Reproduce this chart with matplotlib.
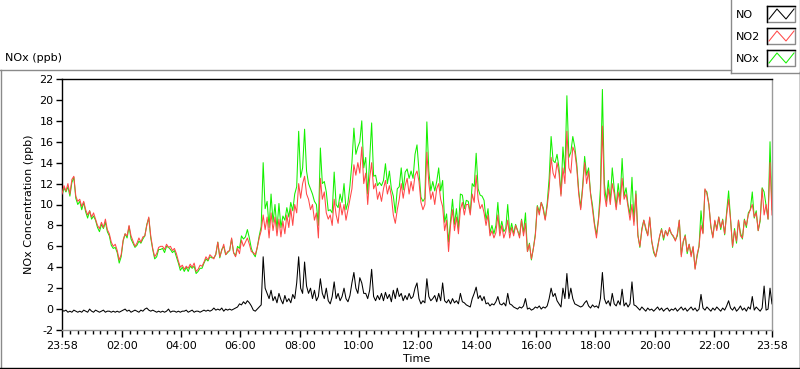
import numpy as np
import matplotlib
matplotlib.use("Agg")
import matplotlib.pyplot as plt
from matplotlib.lines import Line2D
from matplotlib.patches import Rectangle

W, H = 800, 369
plt.rcParams['font.family'] = ['DejaVu Sans']

# ---- data (4-minute samples starting 23:58) ----
step_min = 4
no2_ppb = [
    11.0, 11.8, 11.3, 12.0, 11.0, 12.4, 12.7, 10.8, 10.3, 10.5, 9.8, 10.3, 9.5, 9.0, 9.4, 8.8, 9.2, 8.6, 8.0, 7.7,
    8.3, 7.8, 8.6, 7.6, 7.2, 6.4, 6.0, 6.2, 5.6, 4.7, 5.2, 6.6, 7.2, 7.0, 8.0, 7.0, 6.5, 6.0, 6.3, 6.8,
    6.4, 6.9, 7.0, 8.0, 8.8, 7.0, 5.8, 5.0, 5.3, 5.9, 6.0,
    6.0, 5.7, 6.2, 5.9, 6.0, 5.6, 5.8, 5.3, 4.6, 4.0, 4.2, 3.8, 4.1, 3.9, 4.3, 4.0, 4.4, 3.6, 3.8, 4.2,
    4.1, 4.5, 5.0, 4.7, 5.2, 5.0, 4.8, 5.3, 6.4, 5.0, 5.6, 6.2, 5.2, 5.5, 5.6, 6.8, 5.4, 5.0, 5.8, 5.3,
    6.6, 6.0, 6.4, 6.8, 6.2, 5.5, 5.4, 5.2, 5.9, 6.8, 7.5,
    9.0, 7.6, 8.8, 6.8, 9.2, 7.5, 8.8, 7.0, 8.6, 6.9, 8.4, 7.2, 9.0, 7.8, 9.6, 8.0, 10.0, 9.2, 12.0, 10.6,
    12.0, 12.7, 11.0, 10.5, 9.5, 10.0, 8.5, 9.2, 6.8, 12.5, 10.5, 11.2, 9.2, 8.6, 9.0, 8.0, 10.5, 9.0, 8.2, 10.2,
    9.0, 10.0, 8.5, 9.5, 10.5, 11.5, 13.8, 12.8, 14.0, 13.0, 15.5, 12.0,
    13.0, 10.0, 12.5, 14.0, 11.5, 12.0, 10.5, 11.2, 10.3, 11.5, 12.3, 11.0, 11.8, 10.8, 9.0, 8.2, 9.5, 10.5, 12.0, 10.6,
    11.8, 12.5, 11.0, 12.2, 11.3, 12.8, 13.2, 12.2, 10.2, 9.5, 10.0, 15.0, 12.0, 10.5, 11.2, 10.0, 11.5, 12.0, 10.5, 9.8,
    7.5, 8.5, 5.5, 8.0, 9.5, 7.5, 8.8, 7.2, 9.5, 10.2, 9.0, 10.0,
    10.0, 9.0, 11.0, 10.2, 12.8, 10.5, 9.6, 10.0, 9.2, 8.0, 9.0, 7.0, 7.5, 6.8, 7.3, 9.0, 7.0, 8.0, 6.8, 7.4,
    8.5, 6.8, 7.8, 7.0, 8.0, 7.5, 6.8, 8.5, 7.0, 8.2, 5.5, 6.2, 4.8, 5.8, 7.0, 9.8, 9.0, 10.2, 9.5, 8.5,
    9.8, 11.5, 14.5, 13.0, 12.5, 14.0, 13.0, 10.8, 13.5, 12.0, 17.0, 13.5,
    13.0, 15.5, 15.0, 13.5, 11.0, 9.5, 11.5, 14.0, 12.0, 13.2, 11.0, 9.5, 8.0, 6.8, 8.5, 10.5, 17.5, 11.0, 9.8, 11.5,
    10.0, 12.0, 11.0, 9.5, 11.2, 10.0, 12.5, 10.5, 11.0, 9.8, 8.5, 10.0, 8.0, 11.0, 7.0, 6.0, 7.5, 8.5, 7.8, 7.0,
    8.8, 6.5, 5.6, 5.0, 5.8, 7.0, 7.6, 6.8, 7.5, 7.0, 7.8, 7.2,
    7.0, 6.5, 7.2, 8.5, 5.0, 6.5, 7.0, 5.5, 6.2, 5.0, 6.0, 3.8, 5.2, 6.0, 8.0, 7.2, 11.5, 11.0, 10.0, 8.0,
    6.8, 8.5, 7.5, 8.8, 7.8, 8.5, 7.2, 9.0, 10.5, 8.5, 6.0, 7.5, 6.5, 8.5, 7.0, 6.8, 8.5, 8.0, 9.0, 9.5,
    10.0, 8.8, 9.2, 7.5, 8.6, 11.5, 9.0, 10.0, 8.6, 14.0, 9.0,
]
no_ppb = [
    -0.1, -0.2, -0.1, -0.3, -0.2, -0.3, -0.1, -0.2, -0.3, -0.2, -0.3, -0.1, -0.2, -0.3, 0.0, -0.2, -0.3, -0.1, -0.2, -0.3,
    -0.2, -0.1, -0.3, -0.2, -0.2, -0.3, -0.2, -0.3, -0.2, -0.3, -0.2, -0.1, 0.0, -0.2, -0.1, -0.3, -0.2, -0.1, -0.2, -0.3,
    -0.1, -0.2, 0.0, 0.1, -0.1, -0.2, -0.1, -0.2, -0.3, -0.2, -0.3,
    -0.2, -0.3, -0.2, 0.0, -0.3, -0.2, -0.2, -0.3, -0.2, -0.3, -0.2, -0.2, -0.1, -0.3, -0.2, -0.1, -0.3, -0.2, -0.2, -0.3,
    -0.2, -0.1, -0.2, -0.1, -0.2, -0.1, 0.1, -0.1, 0.0, -0.1, 0.1, -0.2, 0.0, -0.1, 0.0, -0.1, 0.0, 0.1, 0.2, 0.5,
    0.4, 0.7, 0.5, 0.8, 0.6, 0.3, -0.1, -0.2, 0.0, 0.2, 0.4,
    5.0, 2.0, 1.5, 1.0, 1.8, 0.8, 1.2, 0.6, 1.5, 0.9, 0.5, 1.3, 0.7, 1.0, 0.6, 1.4, 1.0, 2.5, 5.0, 2.0,
    1.5, 4.5, 2.2, 1.5, 2.0, 1.0, 1.8, 0.8, 1.2, 2.9, 1.5, 1.0, 2.0, 0.8, 0.5, 1.2, 2.6, 1.0, 1.5, 0.8,
    1.2, 2.0, 1.0, 0.7, 1.3, 2.5, 3.5, 2.0, 1.5, 3.0, 2.5, 1.5,
    1.5, 1.0, 1.8, 3.8, 1.2, 0.8, 1.3, 0.9, 1.5, 0.8, 1.6, 1.0, 1.4, 0.7, 1.8, 1.0, 2.0, 1.2, 1.5, 0.8,
    1.3, 0.9, 1.5, 1.0, 1.2, 2.0, 2.5, 1.0, 0.5, 0.8, 0.6, 2.9, 1.2, 0.8, 1.0, 1.3, 0.7, 1.5, 0.8, 2.5,
    0.8, 0.6, 0.9, 0.5, 1.0, 0.6, 0.8, 0.5, 1.5, 0.7, 0.6, 0.4,
    0.3, 0.2, 1.0, 1.5, 2.1, 1.0, 1.3, 0.8, 1.2, 0.5, 0.6, 0.3, 0.5, 0.4, 0.7, 1.2, 0.5, 0.4, 0.6, 0.3,
    1.5, 0.5, 0.4, 0.2, 0.1, 0.0, 0.2, 0.1, 0.3, 1.0, 0.0, 0.1, -0.1, 0.0, 0.2, 0.1, 0.3, 0.0, 0.2, 0.1,
    0.3, 1.0, 2.0, 1.2, 1.5, 0.8, 0.5, 0.2, 2.0, 1.0, 3.4, 1.0,
    2.0, 1.0, 0.5, 0.4, 0.3, 0.2, 0.3, 0.6, 0.8, 0.3, 0.1, 0.4, 0.2, 0.3, 0.1, 1.0, 3.5, 1.0, 0.5, 0.8,
    0.3, 1.5, 0.5, 0.3, 0.8, 0.4, 1.9, 0.3, 0.6, 0.2, 0.5, 2.6, 0.4, 0.3, 0.1, -0.1, 0.2, 0.0, -0.2, 0.1,
    -0.1, 0.0, -0.2, 0.0, 0.2, -0.1, 0.1, -0.2, 0.0, 0.1, -0.2, 0.0,
    -0.1, 0.1, -0.2, 0.0, 0.2, -0.1, 0.1, -0.2, 0.0, 0.2, -0.1, 0.1, -0.2, 0.0, 1.4, 0.1, -0.1, 0.2, 0.0, -0.2,
    0.1, -0.1, 0.2, 0.0, -0.2, 0.1, -0.1, 0.3, 0.8, 0.1, -0.1, 0.2, -0.2, 0.0, 0.3, -0.1, 0.1, -0.2, 0.2, 0.0,
    1.2, -0.1, 0.2, 0.0, -0.2, 0.1, 2.2, -0.1, 0.0, 2.0, 0.5,
]
# NOx is the sum of NO and NO2
nox_ppb = [a + b for a, b in zip(no2_ppb, no_ppb)]

x_tick_labels = ["23:58", "02:00", "04:00", "06:00", "08:00", "10:00", "12:00",
                 "14:00", "16:00", "18:00", "20:00", "22:00", "23:58"]
y_ticks = list(range(-2, 23, 2))

series_names = ["NO", "NO2", "NOx"]
series_colors = ["#000000", "#ff4848", "#14f000"]

# ---- figure ----
fig = plt.figure(figsize=(W / 100, H / 100), dpi=100)
fig.patch.set_facecolor("white")

def fx(x):
    return x / W

def fy(y):
    return 1 - y / H

L, R, T, B = 62, 772, 79, 330
ax = fig.add_axes([fx(L), fy(B), (R - L) / W, (B - T) / H])

t = np.arange(len(no2_ppb)) * step_min
lw = 0.75
ax.plot(t, nox_ppb, color=series_colors[2], lw=lw, zorder=2)
ax.plot(t, no2_ppb, color=series_colors[1], lw=lw, zorder=3)
ax.plot(t, no_ppb, color=series_colors[0], lw=lw, zorder=4)

ax.set_xlim(0, 1440)
ax.set_ylim(-2, 22)

start = 23 * 60 + 58
def pos_of(lbl, last=False):
    h, m = map(int, lbl.split(":"))
    p = (h * 60 + m - start) % 1440
    return 1440 if (last and p == 0) else p

major = [pos_of(l, i == len(x_tick_labels) - 1) for i, l in enumerate(x_tick_labels)]
minor = []
for q in range(0, 1440, 15):
    p = (q - start) % 1440
    if q % 120 == 0 or p < 5:
        continue
    minor.append(p)

ax.set_xticks(major)
ax.set_xticklabels(x_tick_labels)
ax.set_xticks(minor, minor=True)
ax.set_yticks(y_ticks)
ax.set_yticklabels([str(v) for v in y_ticks])

fs = 8
ax.tick_params(axis="x", which="major", length=5, width=1, direction="out", labelsize=fs, pad=3, color="#000000")
ax.tick_params(axis="x", which="minor", length=3, width=1, direction="out", color="#000000")
ax.tick_params(axis="y", which="major", length=4, width=1, direction="out", labelsize=fs, pad=2, color="#000000")

for s in ["top", "left"]:
    ax.spines[s].set_color("#000000")
    ax.spines[s].set_linewidth(1)
for s in ["right", "bottom"]:
    ax.spines[s].set_color("#9a9a9a")
    ax.spines[s].set_linewidth(1)

ax.set_xlabel("Time", fontsize=fs, labelpad=2)
ax.set_ylabel("NOx Concentration (ppb)", fontsize=fs, labelpad=4)

# ---- outer frame ----
def hline(x0, x1, y, c):
    fig.add_artist(Line2D([fx(x0), fx(x1)], [fy(y), fy(y)], color=c, lw=1, transform=fig.transFigure))

def vline(x, y0, y1, c):
    fig.add_artist(Line2D([fx(x), fx(x)], [fy(y0), fy(y1)], color=c, lw=1, transform=fig.transFigure))

hline(0, 731, 69.5, "#8a8a8a")
vline(0.5, 69.5, 368, "#8a8a8a")
hline(0, 800, 367.5, "#000000")
vline(799.5, 72, 368, "#000000")

fig.text(fx(5), fy(58), "NOx (ppb)", fontsize=fs, ha="left", va="center")

# ---- legend ----
vline(730.5, 0, 72.5, "#8a8a8a")
hline(730.5, 800, 72.5, "#8a8a8a")
vline(799.5, 0, 72.5, "#8a8a8a")
box_tops = [6, 28, 50]
for name, col, top in zip(series_names, series_colors, box_tops):
    fig.text(fx(736), fy(top + 8.5), name, fontsize=fs, ha="left", va="center")
    x0, x1, y0, y1 = 767, 795, top, top + 16
    fig.add_artist(Rectangle((fx(x0), fy(y1)), (x1 - x0) / W, (y1 - y0) / H,
                             transform=fig.transFigure, fill=False, ec="#8a8a8a", lw=1))
    hline(x0, x1, y0, "#000000")
    vline(x0, y0, y1, "#000000")
    zx = [x0 + 2, x0 + 10, x0 + 19, x0 + 27]
    zy = [y1 - 3, y0 + 3, y1 - 3, y0 + 3]
    fig.add_artist(Line2D([fx(v) for v in zx], [fy(v) for v in zy], color=col, lw=0.75,
                          transform=fig.transFigure))

fig.savefig("out.png", dpi=100, facecolor="white")
